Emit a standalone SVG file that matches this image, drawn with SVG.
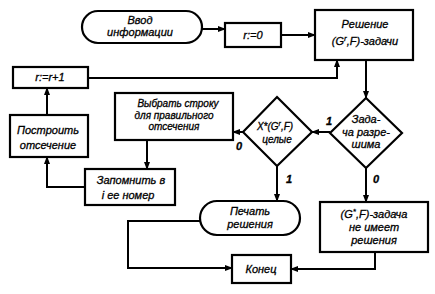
<svg xmlns="http://www.w3.org/2000/svg" width="435" height="294" viewBox="0 0 435 294">
<defs>
<marker id="arr" markerWidth="8" markerHeight="6" refX="7" refY="3" orient="auto" markerUnits="userSpaceOnUse">
<path d="M0,0 L8,3 L0,6 Z" fill="#000"/>
</marker>
<style>
.box{fill:#fff;stroke:#000;stroke-width:2.2}
.ln{fill:none;stroke:#000;stroke-width:2;marker-end:url(#arr)}
text{font-family:"Liberation Sans",Arial,sans-serif;font-style:italic;font-size:11px;fill:#000;stroke:#000;stroke-width:0.3;text-anchor:middle}
.sm{font-size:10px}
.lbl{font-weight:bold;font-size:11px}
</style>
</defs>
<rect width="435" height="294" fill="#fff"/>
<g id="connectors">
<path class="ln" d="M202,29 L225,29"/>
<path class="ln" d="M281,35 L315,35"/>
<path class="ln" d="M88,78 L337,78 L337,60"/>
<path class="ln" d="M366,60 L366,98"/>
<path class="ln" d="M330,132 L312,132"/>
<path class="ln" d="M243,132 L233,132"/>
<path class="ln" d="M147,140 L147,169"/>
<path class="ln" d="M85,187 L47,187 L47,157"/>
<path class="ln" d="M47,115 L47,88"/>
<path class="ln" d="M277,166 L277,201"/>
<path class="ln" d="M366,168 L366,202"/>
<path class="ln" d="M375,252 L375,269 L291,269"/>
<path class="ln" d="M200,221 L128,221 L128,268 L232,268"/>
</g>
<g id="n_vvod">
<rect class="box" x="82" y="11" width="120" height="32" rx="16"/>
<text x="140" y="24">Ввод</text>
<text x="140" y="36">информации</text>
</g>
<g id="n_r0">
<rect class="box" x="225" y="23" width="56" height="24"/>
<text x="253" y="39">r:=0</text>
</g>
<g id="n_resh">
<rect class="box" x="315" y="10" width="98" height="50"/>
<text x="365" y="28">Решение</text>
<text x="365" y="45">(G<tspan dy="-4" font-size="8">r</tspan><tspan dy="4">,F)-задачи</tspan></text>
</g>
<g id="n_rr1">
<rect class="box" x="13" y="67" width="75" height="21"/>
<text x="50" y="81">r:=r+1</text>
</g>
<g id="n_postr">
<rect class="box" x="10" y="115" width="78" height="42"/>
<text x="48" y="134">Построить</text>
<text x="48" y="149">отсечение</text>
</g>
<g id="n_vybr">
<rect class="box" x="115" y="93" width="118" height="47"/>
<text class="sm" x="178" y="107">Выбрать строку</text>
<text class="sm" x="174" y="119">для правильного</text>
<text class="sm" x="174" y="130">отсечения</text>
</g>
<g id="n_celye">
<polygon class="box" points="277,97 312,132 277,166 243,132"/>
<text class="sm" x="275" y="130">X*(G<tspan dy="-4" font-size="7">r</tspan><tspan dy="4">,F)</tspan></text>
<text class="sm" x="277" y="143">целые</text>
</g>
<g id="n_razr">
<polygon class="box" points="366,98 402,133 366,168 330,133"/>
<text x="366" y="123">Зада-</text>
<text x="366" y="136">ча разре-</text>
<text x="366" y="148">шима</text>
</g>
<g id="n_zapom">
<rect class="box" x="85" y="169" width="90" height="36"/>
<text x="131" y="184">Запомнить в</text>
<text x="128" y="199">i ее номер</text>
</g>
<g id="n_pechat">
<rect class="box" x="200" y="201" width="100" height="34" rx="17"/>
<text x="250" y="215">Печать</text>
<text x="250" y="228">решения</text>
</g>
<g id="n_nores">
<rect class="box" x="320" y="202" width="108" height="50"/>
<text x="374" y="218">(G<tspan dy="-4" font-size="8">*</tspan><tspan dy="4">,F)-задача</tspan></text>
<text x="374" y="231">не имеет</text>
<text x="374" y="244">решения</text>
</g>
<g id="n_konec">
<rect class="box" x="232" y="255" width="59" height="28"/>
<text x="261" y="273">Конец</text>
</g>
<g id="labels">
<text class="lbl" x="329" y="125">1</text>
<text class="lbl" x="239" y="150">0</text>
<text class="lbl" x="289" y="183">1</text>
<text class="lbl" x="376" y="183">0</text>
</g>
</svg>
